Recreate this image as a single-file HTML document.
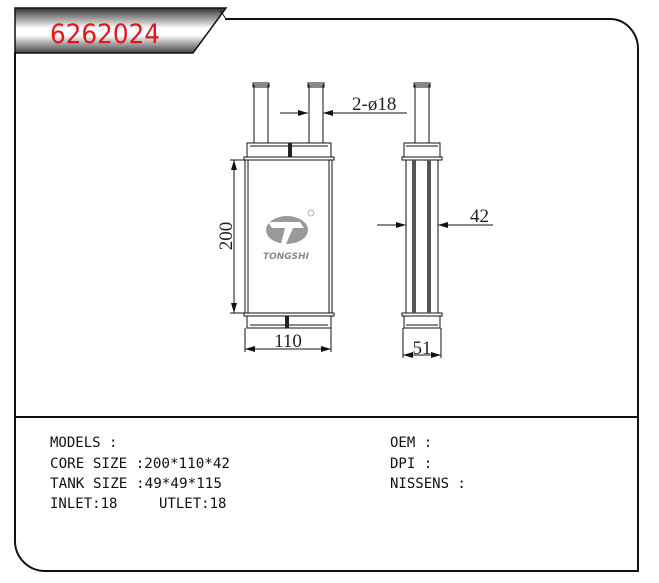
<!DOCTYPE html>
<html><head><meta charset="utf-8"><style>
html,body{margin:0;padding:0;background:#fff;width:659px;height:583px;overflow:hidden}
svg{display:block}
.t{font-family:"DejaVu Sans Mono","Liberation Mono",monospace;font-size:14px;fill:#111}
.d{font-family:"Liberation Serif",serif;font-size:19px;fill:#222}
</style></head><body>
<svg width="659" height="583" viewBox="0 0 659 583" xmlns="http://www.w3.org/2000/svg">
<defs>
<linearGradient id="g" x1="0" y1="0" x2="0" y2="1">
<stop offset="0" stop-color="#333"/><stop offset="0.45" stop-color="#fff"/><stop offset="0.6" stop-color="#fff"/><stop offset="1" stop-color="#444"/>
</linearGradient>
<marker id="a" viewBox="0 0 10 6" refX="10" refY="3" markerWidth="10" markerHeight="6" orient="auto" markerUnits="userSpaceOnUse"><path d="M0,0L10,3L0,6z" fill="#111"/></marker>
</defs>
<path d="M225,19 H610 A28,30 0 0 1 638,49 V571 H45 A30,30 0 0 1 15,541 V52" fill="none" stroke="#111" stroke-width="2"/>
<line x1="15" y1="417" x2="638" y2="417" stroke="#111" stroke-width="2"/>
<path d="M15,8 H226 L193,53 H15 Z" fill="url(#g)" stroke="#111" stroke-width="1.5"/>
<line x1="220" y1="10" x2="226" y2="19" stroke="#111"/>
<text x="50" y="43" font-family="'DejaVu Sans','Liberation Sans',sans-serif" font-size="27" fill="#e8141c" textLength="110" lengthAdjust="spacingAndGlyphs">6262024</text>
<g fill="none" stroke="#111" stroke-width="1">
<rect x="254" y="85" width="14" height="58"/><rect x="253" y="83" width="16" height="4"/>
<rect x="309" y="85" width="14" height="58"/><rect x="308" y="83" width="16" height="4"/>
<rect x="247" y="143" width="84" height="14"/><line x1="250" y1="146" x2="328" y2="146"/>
<rect x="244" y="157" width="90" height="3"/>
<rect x="245" y="160" width="87" height="153"/><line x1="248" y1="160" x2="248" y2="313"/><line x1="329" y1="160" x2="329" y2="313"/>
<rect x="244" y="313" width="90" height="3"/>
<rect x="247" y="316" width="84" height="12"/><line x1="250" y1="325" x2="328" y2="325"/>
</g>
<rect x="288" y="143" width="4" height="14" fill="#222"/>
<rect x="285" y="316" width="4" height="12" fill="#222"/>
<ellipse cx="287" cy="230" rx="21" ry="14" fill="#999"/>
<path d="M268,222 L300,222 L304,228 L293,228 L286,244 L281,244 L285,228 L272,228 Z" fill="#fff"/>
<text x="286" y="259" text-anchor="middle" font-family="'DejaVu Sans',sans-serif" font-size="9" font-weight="bold" font-style="italic" fill="#888">TONGSHI</text>
<circle cx="311" cy="213" r="3" fill="none" stroke="#999" stroke-width="0.7"/>
<g fill="none" stroke="#111" stroke-width="1">
<rect x="415" y="85" width="14" height="58"/><rect x="414" y="83" width="16" height="4"/>
<rect x="404" y="143" width="36" height="14"/><line x1="406" y1="146" x2="438" y2="146"/>
<rect x="402" y="157" width="40" height="3"/>
<rect x="406" y="160" width="32" height="153"/>
<rect x="402" y="313" width="40" height="3"/>
<rect x="404" y="316" width="36" height="12"/><line x1="406" y1="325" x2="438" y2="325"/>
</g>
<rect x="412" y="160" width="4" height="153" fill="#555"/>
<rect x="427" y="160" width="4" height="153" fill="#555"/>
<g stroke="#111" stroke-width="1" fill="none">
<line x1="280" y1="113" x2="308" y2="113" marker-end="url(#a)"/>
<line x1="407" y1="113" x2="323" y2="113" marker-end="url(#a)"/>
<line x1="377" y1="225" x2="406" y2="225" marker-end="url(#a)"/>
<line x1="493" y1="225" x2="438" y2="225" marker-end="url(#a)"/>
<line x1="230" y1="160" x2="245" y2="160"/><line x1="230" y1="313" x2="245" y2="313"/>
<line x1="234" y1="236" x2="234" y2="160" marker-end="url(#a)"/>
<line x1="234" y1="236" x2="234" y2="313" marker-end="url(#a)"/>
<line x1="245" y1="328" x2="245" y2="352"/><line x1="331" y1="328" x2="331" y2="352"/>
<line x1="288" y1="349" x2="245" y2="349" marker-end="url(#a)"/>
<line x1="288" y1="349" x2="331" y2="349" marker-end="url(#a)"/>
<line x1="403" y1="328" x2="403" y2="358"/><line x1="441" y1="328" x2="441" y2="358"/>
<line x1="422" y1="355" x2="403" y2="355" marker-end="url(#a)"/>
<line x1="422" y1="355" x2="441" y2="355" marker-end="url(#a)"/>
</g>
<text class="d" x="352" y="110">2-ø18</text>
<text class="d" x="470" y="222">42</text>
<text class="d" x="288" y="347" text-anchor="middle">110</text>
<text class="d" x="422" y="354" text-anchor="middle">51</text>
<text class="d" transform="translate(232,236) rotate(-90)" text-anchor="middle">200</text>
<text class="t" x="50" y="447">MODELS :</text>
<text class="t" x="50" y="468" textLength="180" lengthAdjust="spacingAndGlyphs">CORE SIZE :200*110*42</text>
<text class="t" x="50" y="488" textLength="172" lengthAdjust="spacingAndGlyphs">TANK SIZE :49*49*115</text>
<text class="t" x="50" y="508">INLET:18</text>
<text class="t" x="159" y="508">UTLET:18</text>
<text class="t" x="390" y="447">OEM :</text>
<text class="t" x="390" y="468">DPI :</text>
<text class="t" x="390" y="488">NISSENS :</text>
</svg>
</body></html>
